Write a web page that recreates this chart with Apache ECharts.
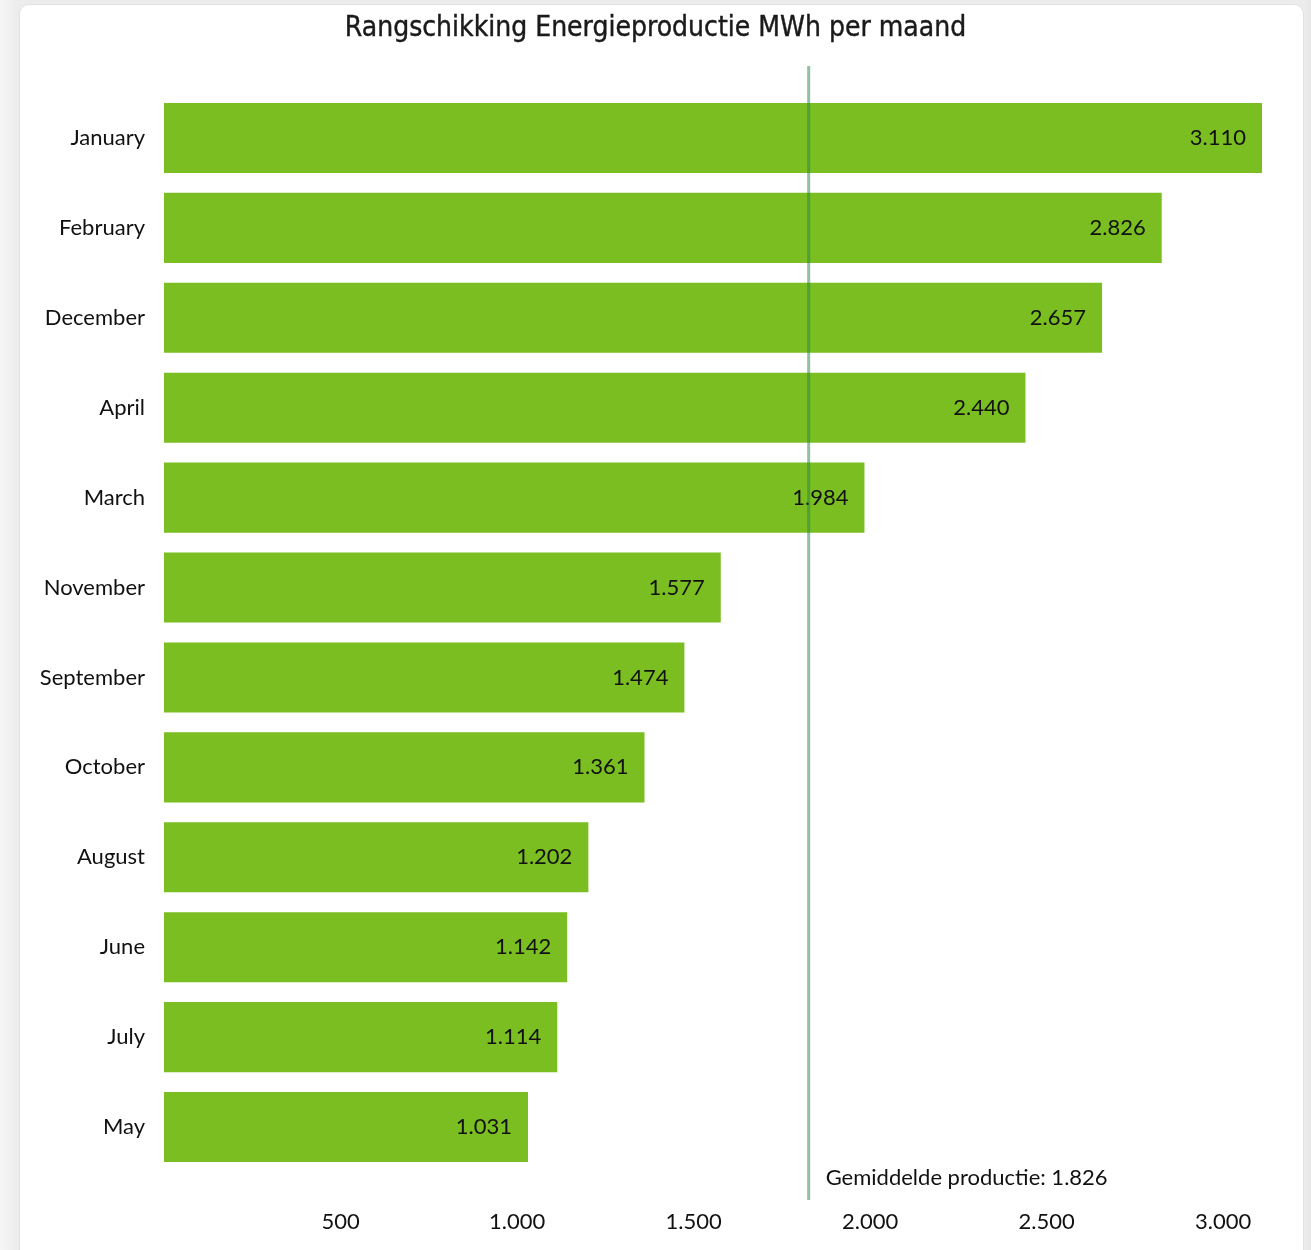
<!DOCTYPE html>
<html>
<head>
<meta charset="utf-8">
<script src="https://cdn.jsdelivr.net/npm/echarts@6/dist/echarts.min.js"></script>
<style>
  html, body { margin: 0; padding: 0; background: #ececec; }
  #wrap { position: relative; width: 1311px; height: 1250px; overflow: hidden;
          background: linear-gradient(to right, #f6f6f6 0px, #ececec 18px, #ececec 1304px, #e6e6e6 1311px); }
  #card { position: absolute; left: 19px; top: 4px; width: 1285px; height: 1270px; background: #fff;
          border-radius: 10px; border: 1px solid #e2e2e2; box-sizing: border-box; }
  #chart { position: absolute; left: 0; top: 0; width: 1311px; height: 1250px; }
</style>
</head>
<body>
<div id="wrap"><div id="card"></div><div id="chart"></div></div>
<script>
const titleText = 'Rangschikking Energieproductie MWh per maand';
const categories = ['January', 'February', 'December', 'April', 'March', 'November',
                    'September', 'October', 'August', 'June', 'July', 'May'];
const values = [3110, 2826, 2657, 2440, 1984, 1577, 1474, 1361, 1202, 1142, 1114, 1031];
const average = 1826;
const averageLabel = 'Gemiddelde productie: ';
const xMax = 3110;
const xInterval = 500;

function nl(v) {
  return String(Math.round(v)).replace(/\B(?=(\d{3})+(?!\d))/g, '.');
}

const font = 'Lato, "Open Sans", sans-serif';
const chart = echarts.init(document.getElementById('chart'), null, { renderer: 'canvas' });
chart.setOption({
  animation: false,
  backgroundColor: 'transparent',
  textStyle: { fontFamily: font },
  title: {
    text: titleText, left: 'center', top: 10,
    textStyle: { fontFamily: '"DejaVu Sans Condensed", "DejaVu Sans", sans-serif', fontSize: 28, fontWeight: 'normal', color: '#1a1a1a',
                 textBorderColor: '#1a1a1a', textBorderWidth: 0.4 }
  },
  grid: [
    { left: 164, right: 49, top: 93, bottom: 78 },
    { left: 164, right: 49, top: 66, bottom: 50 }
  ],
  xAxis: [
    { type: 'value', gridIndex: 0, min: 0, max: xMax, interval: xInterval,
      axisLine: { show: false }, axisTick: { show: false }, splitLine: { show: false },
      axisLabel: { showMinLabel: false, showMaxLabel: false, margin: 39, fontSize: 22, color: '#111', fontFamily: font,
                   formatter: v => nl(v) } },
    { type: 'value', gridIndex: 1, min: 0, max: xMax, show: false }
  ],
  yAxis: [
    { type: 'category', gridIndex: 0, data: categories, inverse: true,
      axisLine: { show: false }, axisTick: { show: false },
      axisLabel: { margin: 19, fontSize: 22, color: '#111', fontFamily: font, padding: [6, 0, 0, 0] } },
    { type: 'value', gridIndex: 1, min: 0, max: 1, show: false }
  ],
  series: [
    { type: 'bar', xAxisIndex: 0, yAxisIndex: 0, data: values, barCategoryGap: '22%',
      itemStyle: { color: '#7abe21' },
      label: { show: true, position: 'insideRight', distance: 16, fontSize: 22, color: '#111', fontFamily: font,
               padding: [6, 0, 0, 0], formatter: p => nl(p.value) } },
    { type: 'line', xAxisIndex: 1, yAxisIndex: 1, z: 5,
      data: [[average, 0], [average, 1]],
      symbol: 'circle', symbolSize: 0, showSymbol: true,
      lineStyle: { color: 'rgba(40,130,70,0.5)', width: 3 },
      label: { show: true, position: [17, -33], fontSize: 22, color: '#111', fontFamily: font,
               formatter: p => p.dataIndex === 0 ? averageLabel + nl(average) : '' } }
  ]
});
</script>
</body>
</html>
